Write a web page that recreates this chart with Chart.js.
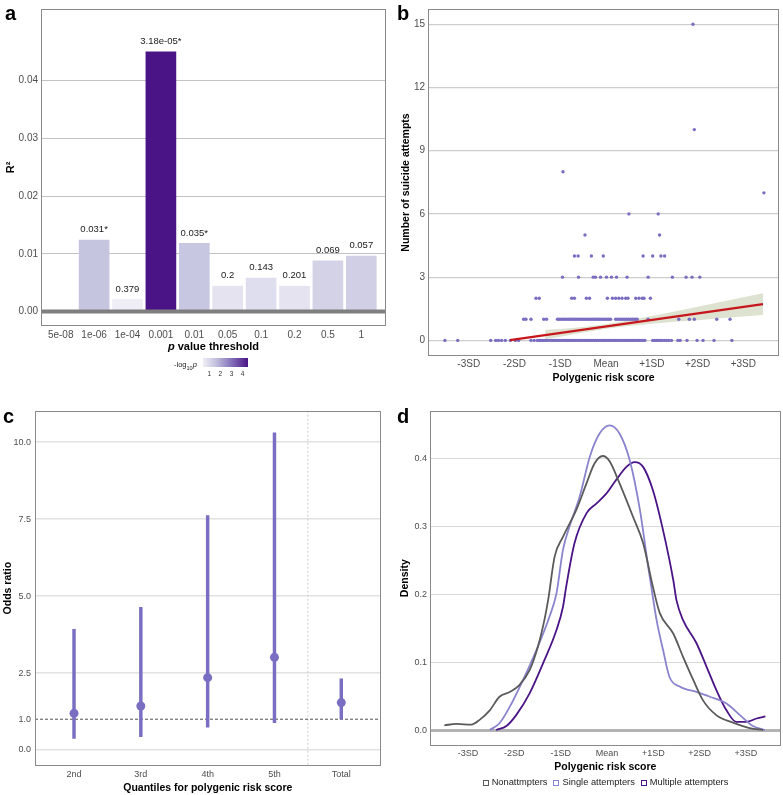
<!DOCTYPE html>
<html lang="en">
<head>
<meta charset="utf-8">
<title>PRS figure</title>
<script src="https://cdn.jsdelivr.net/npm/chart.js@4.4.1/dist/chart.umd.min.js"></script>
<style>
  body { margin: 0; background: #fff; font-family: 'Liberation Sans', Arial, sans-serif; }
  #fig { position: relative; width: 783px; height: 795px; overflow: hidden; background: #fff; }
  #fig canvas { position: absolute; }
  .tag { position: absolute; font-weight: bold; font-size: 20px; line-height: 20px; color: #000; }
  #titleA { position: absolute; left: 41px; width: 345px; top: 340px; text-align: center;
            font-weight: bold; font-size: 11px; line-height: 13px; color: #000; }
  #keyA { position: absolute; left: 0; top: 0; width: 390px; height: 400px; }
  #keyTitle { position: absolute; left: 174px; top: 360px; font-size: 7.5px; line-height: 9px; color: #222; white-space: nowrap; }
  #keyTitle sub { font-size: 5.5px; }
  #keyBar { position: absolute; left: 203px; top: 358px; width: 45px; height: 9px; }
  .keyTick { position: absolute; top: 370px; font-size: 6.5px; line-height: 8px; color: #333; transform: translateX(-50%); white-space: nowrap; }
  #legendD { position: absolute; left: 430px; width: 351px; top: 777px; display: flex; justify-content: center;
             font-size: 9.3px; line-height: 11px; color: #222; white-space: nowrap; }
  #legendD span.item { display: flex; align-items: center; margin: 0 3px; }
  #legendD span.box { display: inline-block; width: 4px; height: 4px; border: 1.4px solid; margin-right: 3px; background: #fff; }
</style>
</head>
<body>
<div id="fig">
  <canvas id="chartA" width="390" height="400" style="left:0;top:0"></canvas>
  <canvas id="chartB" width="393" height="400" style="left:390px;top:0"></canvas>
  <canvas id="chartC" width="390" height="395" style="left:0;top:400px"></canvas>
  <canvas id="chartD" width="393" height="395" style="left:390px;top:400px"></canvas>

  <div class="tag" style="left:5px;top:3px">a</div>
  <div class="tag" style="left:397px;top:3px">b</div>
  <div class="tag" style="left:3px;top:406px">c</div>
  <div class="tag" style="left:397px;top:406px">d</div>

  <div id="titleA"><i>p</i> value threshold</div>
  <div id="keyA">
    <div id="keyTitle">-log<sub>10</sub><i>p</i></div>
    <div id="keyBar"></div>
  </div>
  <div id="legendD"></div>
</div>

<script>
// ---------------- dados: painel a (R² por limiar de p) ----------------
const thresholdsA = ['5e-08', '1e-06', '1e-04', '0.001', '0.01', '0.05', '0.1', '0.2', '0.5', '1'];
const r2A = [0, 0.0124, 0.0021, 0.0450, 0.0118, 0.0044, 0.0058, 0.0044, 0.0088, 0.0096];
const pA = [null, 0.031, 0.379, 3.18e-5, 0.035, 0.2, 0.143, 0.201, 0.069, 0.057];
const pLabelsA = ['', '0.031*', '0.379', '3.18e-05*', '0.035*', '0.2', '0.143', '0.201', '0.069', '0.057'];
const yTicksA = [0, 0.01, 0.02, 0.03, 0.04];
const keyTicksA = [1, 2, 3, 4];

// ---------------- dados: painel b (tentativas x PRS) ----------------
const sdTicks = [-3, -2, -1, 0, 1, 2, 3];
const sdLabels = ['-3SD', '-2SD', '-1SD', 'Mean', '+1SD', '+2SD', '+3SD'];
const yTicksB = [0, 3, 6, 9, 12, 15];
const prsZero = [-3.52, -3.24, -2.52, -2.41, -2.35, -2.28, -2.20, -2.09, -1.98, -1.91, -1.64, -1.57,
  -1.50, -1.46, -1.43, -1.39, -1.35, -1.31, -1.27, -1.22, -1.18, -1.14, -1.10, -1.06, -1.02, -0.98,
  -0.94, -0.90, -0.86, -0.83, -0.79, -0.75, -0.71, -0.67, -0.63, -0.59, -0.55, -0.51, -0.47, -0.43,
  -0.39, -0.35, -0.31, -0.27, -0.23, -0.19, -0.15, -0.11, -0.07, -0.03, 0.01, 0.05, 0.09, 0.13, 0.17,
  0.21, 0.25, 0.29, 0.33, 0.37, 0.41, 0.45, 0.49, 0.53, 0.57, 0.61, 0.65, 0.69, 0.73, 0.77, 0.81, 0.85,
  1.02, 1.06, 1.10, 1.14, 1.18, 1.22, 1.27, 1.32, 1.37, 1.43, 1.57, 1.62, 1.77, 1.99, 2.12, 2.36, 2.75];
const prsOne = [-1.80, -1.75, -1.64, -1.36, -1.30, -1.06, -1.02, -0.98, -0.94, -0.90, -0.86, -0.82,
  -0.78, -0.74, -0.70, -0.66, -0.62, -0.58, -0.54, -0.50, -0.46, -0.42, -0.38, -0.34, -0.30, -0.26,
  -0.22, -0.18, -0.14, -0.10, -0.06, -0.02, 0.02, 0.06, 0.10, 0.21, 0.25, 0.29, 0.33, 0.37, 0.41, 0.45,
  0.49, 0.53, 0.57, 0.61, 0.65, 0.68, 0.92, 1.59, 1.82, 1.93, 2.42, 2.71];
const prsTwo = [-1.53, -1.46, -0.75, -0.69, -0.43, -0.36, 0.03, 0.14, 0.21, 0.28, 0.35, 0.43, 0.48,
  0.65, 0.72, 0.79, 0.83, 0.97];
const prsThree = [-0.95, -0.60, -0.28, -0.23, -0.12, 0.01, 0.12, 0.23, 0.46, 0.92, 1.45, 1.75, 1.88, 2.05];
const prsFour = [-0.69, -0.61, -0.32, -0.06, 0.81, 1.02, 1.20, 1.28];
const prsFive = [-0.46, 1.17];
const prsSix = [0.50, 1.14];
const prsHigh = [-0.94, 3.45, 1.93, 1.90];
const countsHigh = [8, 7, 10, 15];
const fitX = [-2.1, 3.43];
const fitY = [0.01, 1.72];
const bandX = [-1.33, -1, -0.5, 0, 0.5, 1, 1.5, 2, 2.5, 3, 3.43];
const bandLo = [0.05, 0.17, 0.37, 0.55, 0.68, 0.79, 0.88, 0.96, 1.05, 1.13, 1.20];
const bandHi = [0.50, 0.54, 0.64, 0.77, 0.95, 1.16, 1.37, 1.60, 1.82, 2.05, 2.24];

// ---------------- dados: painel c (odds ratio por quantil) ----------------
const quantLabels = ['2nd', '3rd', '4th', '5th', 'Total'];
const orEst = [1.19, 1.43, 2.35, 3.01, 1.54];
const orLo = [0.38, 0.43, 0.74, 0.89, 1.01];
const orHi = [3.92, 4.63, 7.61, 10.30, 2.31];
const yTicksC = [0, 1, 2.5, 5, 7.5, 10];

// ---------------- dados: painel d (densidades) ----------------
const yTicksD = [0, 0.1, 0.2, 0.3, 0.4];
const groupNames = ['Nonattmpters', 'Single attempters', 'Multiple attempters'];
const nonX = [-3.51, -3.25, -2.93, -2.75, -2.53, -2.32, -2.10, -1.89, -1.67, -1.49, -1.35, -1.27, -1.13,
  -0.95, -0.66, -0.44, -0.27, -0.09, 0.06, 0.27, 0.56, 0.78, 0.99, 1.14, 1.43, 1.64, 1.86, 2.07, 2.36,
  2.72, 3.08, 3.37];
const nonY = [0.008, 0.010, 0.009, 0.016, 0.030, 0.050, 0.057, 0.067, 0.089, 0.124, 0.163, 0.192, 0.256,
  0.285, 0.325, 0.364, 0.393, 0.404, 0.396, 0.364, 0.315, 0.276, 0.212, 0.173, 0.143, 0.109, 0.075, 0.045,
  0.023, 0.012, 0.004, 0.001];
const singleX = [-2.53, -2.32, -2.10, -1.81, -1.52, -1.24, -1.09, -0.95, -0.81, -0.59, -0.37, -0.16, 0.06,
  0.27, 0.49, 0.71, 0.89, 0.99, 1.07, 1.21, 1.35, 1.57, 1.93, 2.22, 2.58, 2.87, 3.15, 3.41];
const singleY = [0.001, 0.011, 0.035, 0.075, 0.119, 0.168, 0.202, 0.266, 0.300, 0.344, 0.403, 0.437, 0.449,
  0.437, 0.398, 0.325, 0.241, 0.197, 0.163, 0.119, 0.079, 0.065, 0.057, 0.050, 0.040, 0.023, 0.007, 0.001];
const multiX = [-2.39, -2.17, -1.96, -1.67, -1.38, -1.09, -0.95, -0.88, -0.70, -0.44, -0.23, -0.01, 0.20,
  0.42, 0.60, 0.78, 0.99, 1.21, 1.43, 1.50, 1.64, 1.93, 2.15, 2.36, 2.58, 2.79, 3.01, 3.23, 3.42];
const multiY = [0.001, 0.007, 0.023, 0.055, 0.099, 0.148, 0.182, 0.212, 0.276, 0.320, 0.334, 0.349, 0.369,
  0.388, 0.395, 0.388, 0.354, 0.295, 0.222, 0.192, 0.163, 0.129, 0.094, 0.060, 0.030, 0.013, 0.013, 0.018,
  0.021];

// ____________________________________________________________________________________________

Chart.defaults.font.family = "'Liberation Sans', Arial, Helvetica, sans-serif";
Chart.defaults.color = '#4d4d4d';
Chart.defaults.animation = false;
Chart.defaults.plugins.legend.display = false;
Chart.defaults.plugins.tooltip.enabled = false;

const purpleDark = '#4a1486';
const pointPurple = '#7a6ec2';
const colourStops = [[0, [239, 238, 246]], [0.27, [198, 196, 224]], [0.6, [138, 120, 189]], [1, [74, 20, 134]]];

// cor da escala de -log10 p
function colourAt(t) {
  t = Math.max(0, Math.min(1, t));
  for (let i = 1; i < colourStops.length; i++) {
    const [t1, c1] = colourStops[i];
    const [t0, c0] = colourStops[i - 1];
    if (t <= t1) {
      const f = (t - t0) / (t1 - t0);
      const c = c0.map((v, k) => Math.round(v + (c1[k] - v) * f));
      return `rgb(${c[0]},${c[1]},${c[2]})`;
    }
  }
  return purpleDark;
}

const pairs = (xs, ys) => xs.map((x, i) => ({ x, y: ys[i] }));
const fixedTicks = values => scale => { scale.ticks = values.map(v => ({ value: v })); };

// moldura cinza em volta da área do gráfico
const panelBorder = {
  id: 'panelBorder',
  afterDraw(chart) {
    const { ctx, chartArea: a } = chart;
    ctx.save();
    ctx.strokeStyle = '#8a8a8a';
    ctx.lineWidth = 1;
    ctx.strokeRect(Math.round(a.left) + 0.5, Math.round(a.top) + 0.5,
      Math.round(a.right - a.left) - 1, Math.round(a.bottom - a.top) - 1);
    ctx.restore();
  }
};

const tickFont = size => ({ size });
const titleFont = { size: 10.5, weight: 'bold' };
const noGrid = { display: false, drawTicks: false };

// ____________________________________________________________________________________________
// Painel a
const logPA = pA.map(p => (p == null ? null : -Math.log10(p)));
const validLog = logPA.filter(v => v != null);
const keyMin = Math.min(...validLog);
const keyMax = Math.max(...validLog);
const barColoursA = logPA.map(v => (v == null ? 'rgba(0,0,0,0)' : colourAt((v - keyMin) / (keyMax - keyMin))));

const barLabelsA = {
  id: 'barLabelsA',
  afterDatasetsDraw(chart) {
    const { ctx, chartArea: a, scales } = chart;
    const y0 = scales.y.getPixelForValue(0);
    ctx.save();
    ctx.strokeStyle = '#7f7f7f';
    ctx.lineWidth = 4;
    ctx.beginPath();
    ctx.moveTo(a.left, y0);
    ctx.lineTo(a.right, y0);
    ctx.stroke();
    ctx.fillStyle = '#1a1a1a';
    ctx.font = "9.5px 'Liberation Sans', Arial, sans-serif";
    ctx.textAlign = 'center';
    ctx.textBaseline = 'middle';
    chart.getDatasetMeta(0).data.forEach((bar, i) => {
      if (pLabelsA[i]) ctx.fillText(pLabelsA[i], bar.x, bar.y - 10.5);
    });
    ctx.restore();
  }
};

new Chart(document.getElementById('chartA'), {
  type: 'bar',
  data: {
    datasets: [{
      data: pairs(thresholdsA.map((_, i) => i), r2A),
      backgroundColor: barColoursA,
      borderWidth: 0,
      barThickness: 30
    }]
  },
  options: {
    responsive: false,
    layout: { padding: { left: 0, top: 2, right: 4, bottom: 46 } },
    scales: {
      x: {
        type: 'linear', min: -0.59, max: 9.74, offset: false,
        afterBuildTicks: fixedTicks(thresholdsA.map((_, i) => i)),
        afterFit: s => { s.height = 28; },
        grid: noGrid,
        border: { display: false },
        ticks: { font: tickFont(10), padding: 3, maxRotation: 0, autoSkip: false,
                 callback: v => thresholdsA[v] }
      },
      y: {
        min: -0.0025, max: 0.0524,
        afterBuildTicks: fixedTicks(yTicksA),
        afterFit: s => { s.width = 41; },
        grid: { color: c => (c.tick && c.tick.value === 0 ? 'rgba(0,0,0,0)' : '#c2c2c2'), lineWidth: 1, drawTicks: false },
        border: { display: false },
        ticks: { font: tickFont(10), padding: 3, callback: v => v.toFixed(2) },
        title: { display: true, text: 'R²', color: '#000', font: { size: 11, weight: 'bold' }, padding: { top: 4, bottom: 0 } }
      }
    }
  },
  plugins: [barLabelsA, panelBorder]
});

// legenda da escala de cor
const keyBar = document.getElementById('keyBar');
keyBar.style.background = 'linear-gradient(to right, ' +
  colourStops.map(([t, c]) => `rgb(${c[0]},${c[1]},${c[2]}) ${t * 100}%`).join(', ') + ')';
keyTicksA.forEach(v => {
  const el = document.createElement('div');
  el.className = 'keyTick';
  el.textContent = v;
  el.style.left = (203 + (v - keyMin) / (keyMax - keyMin) * 45) + 'px';
  document.getElementById('keyA').appendChild(el);
});

// ____________________________________________________________________________________________
// Painel b
const attemptPoints = [];
[[prsZero, 0], [prsOne, 1], [prsTwo, 2], [prsThree, 3], [prsFour, 4], [prsFive, 5], [prsSix, 6]]
  .forEach(([xs, n]) => xs.forEach(x => attemptPoints.push({ x, y: n })));
prsHigh.forEach((x, i) => attemptPoints.push({ x, y: countsHigh[i] }));

const sdAxis = (min, max, size, height) => ({
  type: 'linear', min, max, offset: false,
  afterBuildTicks: fixedTicks(sdTicks),
  afterFit: s => { s.height = height; },
  grid: noGrid,
  border: { display: false },
  ticks: { font: tickFont(size), padding: 2, maxRotation: 0, autoSkip: false,
           callback: v => sdLabels[sdTicks.indexOf(v)] },
  title: { display: true, text: 'Polygenic risk score', color: '#000', font: titleFont, padding: { top: 0, bottom: 0 } }
});

new Chart(document.getElementById('chartB'), {
  type: 'scatter',
  data: {
    datasets: [
      { type: 'line', data: pairs(bandX, bandHi), borderWidth: 0, pointRadius: 0, fill: '+1',
        backgroundColor: '#dde3d0', order: 3 },
      { type: 'line', data: pairs(bandX, bandLo), borderWidth: 0, pointRadius: 0, fill: false, order: 3 },
      { data: attemptPoints, pointRadius: 1.7, borderWidth: 0, backgroundColor: pointPurple, order: 2 },
      { type: 'line', data: pairs(fitX, fitY), borderColor: '#c8161d', borderWidth: 2.2, pointRadius: 0,
        fill: false, order: 1 }
    ]
  },
  options: {
    responsive: false,
    layout: { padding: { left: 0, top: 2, right: 2, bottom: 16 } },
    scales: {
      x: sdAxis(-3.89, 3.78, 10, 28),
      y: {
        min: -0.74, max: 15.72,
        afterBuildTicks: fixedTicks(yTicksB),
        afterFit: s => { s.width = 38; },
        grid: { color: '#cdcdcd', lineWidth: 1.3, drawTicks: false },
        border: { display: false },
        ticks: { font: tickFont(10), padding: 3 },
        title: { display: true, text: 'Number of suicide attempts', color: '#000', font: titleFont,
                 padding: { top: 10, bottom: 0 } }
      }
    }
  },
  plugins: [panelBorder]
});

// ____________________________________________________________________________________________
// Painel c
const quantPos = quantLabels.map((_, i) => i + 1);

const refLinesC = {
  id: 'refLinesC',
  beforeDatasetsDraw(chart) {
    const { ctx, chartArea: a, scales } = chart;
    ctx.save();
    // separador antes de "Total"
    const xs = scales.x.getPixelForValue(4.5);
    ctx.strokeStyle = '#c9c9c9';
    ctx.lineWidth = 1;
    ctx.setLineDash([2, 2]);
    ctx.beginPath();
    ctx.moveTo(xs, a.top);
    ctx.lineTo(xs, a.bottom);
    ctx.stroke();
    // linha de referência OR = 1
    const y1 = scales.y.getPixelForValue(1);
    ctx.strokeStyle = '#3a3a3a';
    ctx.lineWidth = 0.9;
    ctx.setLineDash([3, 2]);
    ctx.beginPath();
    ctx.moveTo(a.left, y1);
    ctx.lineTo(a.right, y1);
    ctx.stroke();
    ctx.restore();
  }
};

new Chart(document.getElementById('chartC'), {
  type: 'bar',
  data: {
    datasets: [
      { type: 'scatter', data: pairs(quantPos, orEst), pointRadius: 4.5, borderWidth: 0,
        backgroundColor: pointPurple, order: 1 },
      { data: quantPos.map((x, i) => ({ x, y: [orLo[i], orHi[i]] })), backgroundColor: pointPurple,
        borderWidth: 0, barThickness: 2.8, order: 2 }
    ]
  },
  options: {
    responsive: false,
    layout: { padding: { left: 0, top: 10.7, right: 9.3, bottom: 1 } },
    scales: {
      x: {
        type: 'linear', min: 0.416, max: 5.59, offset: false,
        afterBuildTicks: fixedTicks(quantPos),
        afterFit: s => { s.height = 28.3; },
        grid: noGrid,
        border: { display: false },
        ticks: { font: tickFont(9), padding: 3, maxRotation: 0, autoSkip: false,
                 callback: v => quantLabels[v - 1] },
        title: { display: true, text: 'Quantiles for polygenic risk score', color: '#000', font: titleFont,
                 padding: { top: 0, bottom: 0 } }
      },
      y: {
        min: -0.51, max: 11.02,
        afterBuildTicks: fixedTicks(yTicksC),
        afterFit: s => { s.width = 35; },
        grid: { color: c => (c.tick && c.tick.value === 1 ? 'rgba(0,0,0,0)' : '#e2e2e2'), lineWidth: 1.5, drawTicks: false },
        border: { display: false },
        ticks: { font: tickFont(9), padding: 4, callback: v => v.toFixed(1) },
        title: { display: true, text: 'Odds ratio', color: '#000', font: titleFont, padding: { top: 2, bottom: 0 } }
      }
    }
  },
  plugins: [refLinesC, panelBorder]
});

// ____________________________________________________________________________________________
// Painel d
const groupColours = ['#5a5a5a', '#8a83cd', purpleDark];
const densitySets = [[nonX, nonY], [singleX, singleY], [multiX, multiY]];

new Chart(document.getElementById('chartD'), {
  type: 'scatter',
  data: {
    datasets: densitySets.map(([xs, ys], i) => ({
      label: groupNames[i],
      data: pairs(xs, ys),
      showLine: true,
      cubicInterpolationMode: 'monotone',
      borderColor: groupColours[i],
      borderWidth: 1.8,
      pointRadius: 0,
      fill: false
    }))
  },
  options: {
    responsive: false,
    layout: { padding: { left: 0, top: 10.7, right: 2.3, bottom: 21.7 } },
    scales: {
      x: sdAxis(-3.82, 3.75, 9, 27.6),
      y: {
        min: -0.022, max: 0.4706,
        afterBuildTicks: fixedTicks(yTicksD),
        afterFit: s => { s.width = 40; },
        grid: {
          color: c => (c.tick && c.tick.value === 0 ? '#b3b3b3' : '#d9d9d9'),
          lineWidth: c => (c.tick && c.tick.value === 0 ? 3 : 1),
          drawTicks: false
        },
        border: { display: false },
        ticks: { font: tickFont(9), padding: 3, callback: v => v.toFixed(1) },
        title: { display: true, text: 'Density', color: '#000', font: titleFont, padding: { top: 9, bottom: 0 } }
      }
    }
  },
  plugins: [panelBorder]
});

// legenda do painel d
const legendD = document.getElementById('legendD');
groupNames.forEach((name, i) => {
  const item = document.createElement('span');
  item.className = 'item';
  item.innerHTML = `<span class="box" style="border-color:${groupColours[i]}"></span>${name}`;
  legendD.appendChild(item);
});
</script>
</body>
</html>
